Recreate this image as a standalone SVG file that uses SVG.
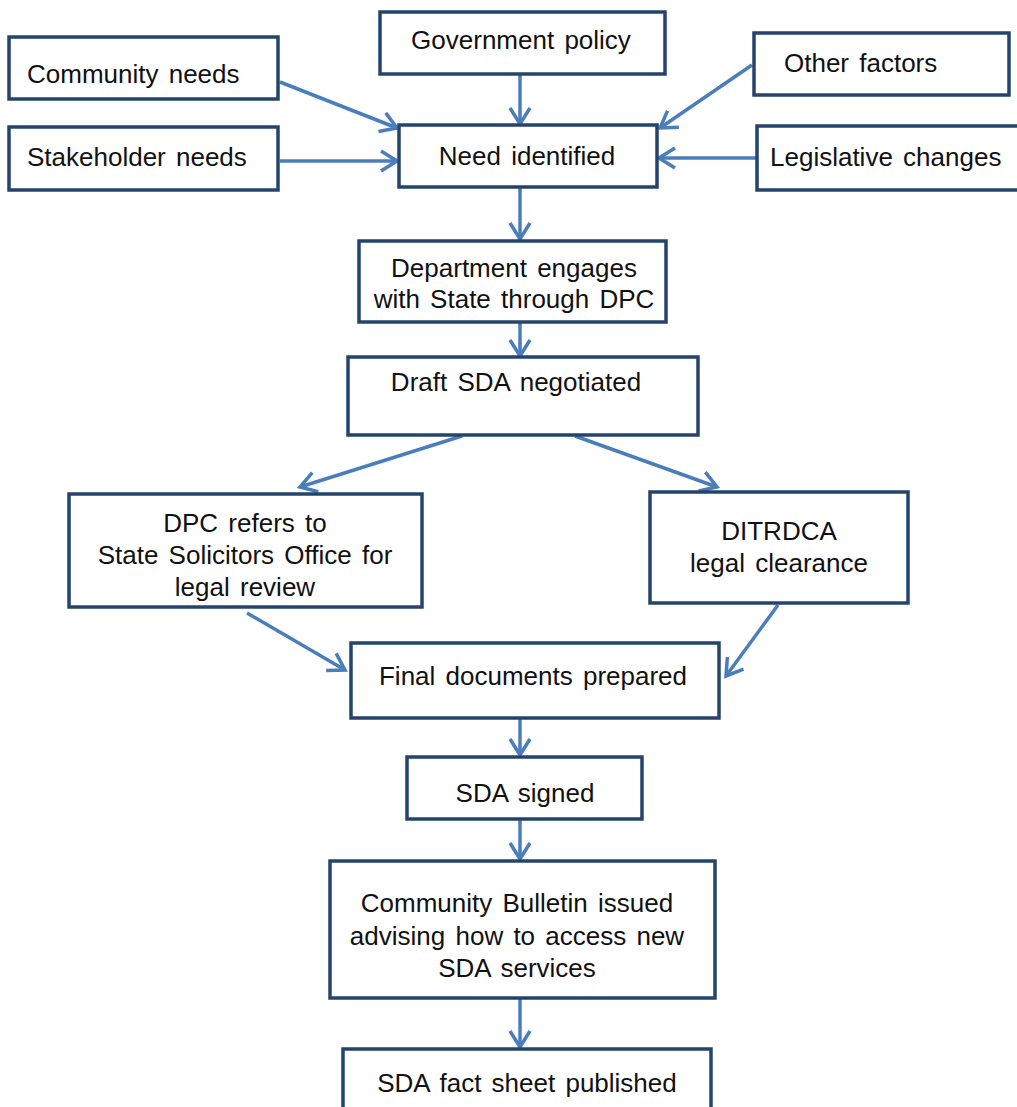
<svg xmlns="http://www.w3.org/2000/svg" width="1017" height="1107" viewBox="0 0 1017 1107">
<defs>
<style>
.box{fill:#fff;stroke:#24446c;stroke-width:3.5}
.t{font-family:"Liberation Sans",Arial,sans-serif;font-size:26px;fill:#111;word-spacing:3px}
.c{text-anchor:middle}
.a{stroke:#4a7ebb;stroke-width:3.5;fill:none;marker-end:url(#ah)}
</style>
<marker id="ah" viewBox="0 0 24 24" refX="21" refY="12" markerWidth="24" markerHeight="24" markerUnits="userSpaceOnUse" orient="auto">
<path d="M5,2 L21,12 L5,22" fill="none" stroke="#4a7ebb" stroke-width="3.5"/>
</marker>
</defs>
<rect width="1017" height="1107" fill="#fff"/>
<g id="connectors">
<path class="a" d="M520,74 V124"/>
<path class="a" d="M280,82 L397,128"/>
<path class="a" d="M280,161 H397"/>
<path class="a" d="M752,65 L660,128"/>
<path class="a" d="M756,158 H659"/>
<path class="a" d="M520,187 V239"/>
<path class="a" d="M520,323 V356"/>
<path class="a" d="M462,436 L300,487"/>
<path class="a" d="M575,436 L717,487"/>
<path class="a" d="M247,613 L345,670"/>
<path class="a" d="M778,605 L726,676"/>
<path class="a" d="M520,718 V755"/>
<path class="a" d="M520,820 V859"/>
<path class="a" d="M520,998 V1047"/>
</g>
<g id="gov"><rect class="box" x="380" y="12" width="285" height="62"/><text class="t c" x="521" y="49">Government policy</text></g>
<g id="community"><rect class="box" x="9" y="37" width="269" height="62"/><text class="t" x="27" y="83">Community needs</text></g>
<g id="other"><rect class="box" x="754" y="33" width="255" height="62"/><text class="t" x="784" y="72">Other factors</text></g>
<g id="stakeholder"><rect class="box" x="9" y="127" width="269" height="63"/><text class="t" x="27" y="166">Stakeholder needs</text></g>
<g id="need"><rect class="box" x="399" y="125" width="258" height="62"/><text class="t c" x="527" y="165">Need identified</text></g>
<g id="legislative"><rect class="box" x="757" y="126" width="262" height="64"/><text class="t" x="770" y="166">Legislative changes</text></g>
<g id="dept"><rect class="box" x="359" y="241" width="307" height="81"/><text class="t c" x="514" y="277">Department engages</text><text class="t c" x="514" y="308">with State through DPC</text></g>
<g id="draft"><rect class="box" x="348" y="357" width="350" height="78"/><text class="t c" x="516" y="391">Draft SDA negotiated</text></g>
<g id="dpc"><rect class="box" x="69" y="494" width="353" height="113"/><text class="t c" x="245" y="532">DPC refers to</text><text class="t c" x="245" y="564">State Solicitors Office for</text><text class="t c" x="245" y="596">legal review</text></g>
<g id="ditrdca"><rect class="box" x="650" y="492" width="258" height="111"/><text class="t c" x="779" y="540">DITRDCA</text><text class="t c" x="779" y="572">legal clearance</text></g>
<g id="final"><rect class="box" x="351" y="643" width="368" height="75"/><text class="t c" x="533" y="685">Final documents prepared</text></g>
<g id="signed"><rect class="box" x="407" y="757" width="235" height="62"/><text class="t c" x="525" y="802">SDA signed</text></g>
<g id="bulletin"><rect class="box" x="330" y="861" width="385" height="137"/><text class="t c" x="517" y="912">Community Bulletin issued</text><text class="t c" x="517" y="945">advising how to access new</text><text class="t c" x="517" y="977">SDA services</text></g>
<g id="factsheet"><rect class="box" x="343" y="1049" width="368" height="70"/><text class="t c" x="527" y="1092">SDA fact sheet published</text></g>
</svg>
